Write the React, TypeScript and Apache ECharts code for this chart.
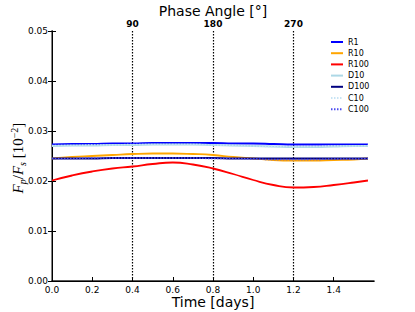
import React, { useEffect, useRef } from "react";
import * as echarts from "echarts";

const times = [0, 0.1, 0.2, 0.3, 0.4, 0.5, 0.6, 0.7, 0.8, 0.9, 1.0, 1.1, 1.2, 1.3, 1.4, 1.5, 1.57];
const R1 = [0.0273, 0.0274, 0.0274, 0.0275, 0.0275, 0.0276, 0.0276, 0.0276, 0.0276, 0.0275, 0.0275, 0.0274, 0.0273, 0.0273, 0.0273, 0.0273, 0.0273];
const R10 = [0.0245, 0.0248, 0.025, 0.0252, 0.0254, 0.0255, 0.0255, 0.0254, 0.0252, 0.0248, 0.0245, 0.0242, 0.0241, 0.0241, 0.0242, 0.0243, 0.0245];
const R100 = [0.0201, 0.0211, 0.0219, 0.0225, 0.0229, 0.0234, 0.0237, 0.0233, 0.0225, 0.0214, 0.0202, 0.0192, 0.0187, 0.0188, 0.0192, 0.0197, 0.0201];
const D10 = [0.027, 0.0271, 0.0271, 0.0272, 0.0272, 0.0273, 0.0273, 0.0273, 0.0272, 0.0271, 0.027, 0.0269, 0.0268, 0.0268, 0.0269, 0.027, 0.027];
const D100 = [0.0245, 0.0245, 0.0245, 0.0246, 0.0246, 0.0246, 0.0246, 0.0246, 0.0246, 0.0245, 0.0245, 0.0245, 0.0245, 0.0245, 0.0245, 0.0245, 0.0245];
const C10 = [0.0271, 0.0271, 0.0272, 0.0272, 0.0273, 0.0273, 0.0273, 0.0273, 0.0272, 0.0271, 0.027, 0.0269, 0.0269, 0.0269, 0.027, 0.027, 0.0271];
const C100 = [0.0245, 0.0245, 0.0246, 0.0246, 0.0246, 0.0246, 0.0246, 0.0246, 0.0245, 0.0245, 0.0244, 0.0243, 0.0243, 0.0243, 0.0244, 0.0244, 0.0245];

const seriesDefs = [
  { name: "R1", data: R1, color: "#0000ff", type: "solid" },
  { name: "R10", data: R10, color: "#ffa500", type: "solid" },
  { name: "R100", data: R100, color: "#ff0000", type: "solid" },
  { name: "D10", data: D10, color: "#add8e6", type: "solid" },
  { name: "D100", data: D100, color: "#000080", type: "solid" },
  { name: "C10", data: C10, color: "#c8e4f4", type: "dotted" },
  { name: "C100", data: C100, color: "#4b4bf0", type: "dotted" },
];

const xTicksMax = 1.6;
const phaseMax = 360;
const bottomTitle = "Time [days]";
const topTitle = "Phase Angle [°]";
const yTitleRich = "{i|F}{sub|p}{n|/}{i|F}{sub|s}{n| [10}{sup|−2}{n|]}";

const SOLID_ICON = "path://M0,0h12v2h-12z";
const DOT_ICON = "path://M0,0h1.5v2h-1.5z M3,0h1.5v2h-1.5z M6,0h1.5v2h-1.5z M9,0h1.5v2h-1.5z M12,0h0.01v2h-0.01z";

export default function App() {
  const ref = useRef<HTMLDivElement>(null);
  useEffect(() => {
    if (!ref.current) return;
    const chart = echarts.init(ref.current, null, { renderer: "svg" });
    const font = "DejaVu Sans";
    chart.setOption({
      animation: false,
      backgroundColor: "#ffffff",
      textStyle: { fontFamily: font },
      grid: { left: 52, right: 41, top: 31, bottom: 31, outerBoundsMode: "none", containLabel: false },
      graphic: [
        {
          type: "text",
          x: 213,
          y: 302,
          style: { text: bottomTitle, fontSize: 14, fontFamily: font, fill: "#000", textAlign: "center", textVerticalAlign: "middle" },
        },
        {
          type: "text",
          x: 213,
          y: 11,
          style: { text: topTitle, fontSize: 14, fontFamily: font, fill: "#000", textAlign: "center", textVerticalAlign: "middle" },
        },
        {
          type: "text",
          x: 18,
          y: 158,
          rotation: Math.PI / 2,
          style: {
            text: yTitleRich,
            fill: "#000",
            textAlign: "center",
            textVerticalAlign: "middle",
            rich: {
              i: { fontSize: 15, fontStyle: "italic", fontFamily: "Liberation Serif", fill: "#000" },
              n: { fontSize: 15, fontFamily: "Liberation Serif", fill: "#000" },
              sub: { fontSize: 10, fontStyle: "italic", fontFamily: "Liberation Serif", fill: "#000", verticalAlign: "bottom", padding: [8, 0, 0, 0] },
              sup: { fontSize: 10, fontFamily: "Liberation Serif", fill: "#000", verticalAlign: "top", padding: [0, 0, 8, 0] },
            },
          },
        },
      ],
      legend: {
        orient: "vertical",
        left: 326,
        top: 33,
        itemWidth: 12,
        itemHeight: 2,
        itemGap: 3.2,
        textStyle: { fontSize: 8, color: "#000", fontFamily: font },
        data: seriesDefs.map((s) => ({ name: s.name, icon: s.type === "dotted" ? DOT_ICON : SOLID_ICON })),
      },
      xAxis: [
        {
          type: "value",
          position: "bottom",
          min: 0,
          max: xTicksMax,
          interval: 0.2,
          axisLine: { show: true, lineStyle: { color: "#222", width: 1.5 } },
          axisTick: { show: true, inside: true, length: 4, lineStyle: { color: "#000" } },
          axisLabel: {
            fontSize: 9,
            color: "#000",
            margin: 4,
            showMaxLabel: false,
            formatter: (v: number) => v.toFixed(1),
          },
          splitLine: { show: false },
        },
        {
          type: "value",
          position: "top",
          min: 0,
          max: phaseMax,
          interval: 90,
          axisLine: { show: true, lineStyle: { color: "#000", width: 1 } },
          axisTick: { show: false },
          axisLabel: {
            fontSize: 9,
            color: "#000",
            fontWeight: "bold",
            margin: 3,
            showMinLabel: false,
            showMaxLabel: false,
          },
          splitLine: {
            show: true,
            showMinLine: false,
            showMaxLine: false,
            lineStyle: { color: "#000", type: [1.5, 1.5], width: 1.2 },
          },
        },
      ],
      yAxis: [
        {
          type: "value",
          position: "left",
          min: 0,
          max: 0.05,
          interval: 0.01,
          axisLine: { show: true, lineStyle: { color: "#808080", width: 2 } },
          axisTick: { show: true, inside: true, length: 4, lineStyle: { color: "#000" } },
          axisLabel: {
            fontSize: 9,
            color: "#000",
            margin: 4,
            formatter: (v: number) => v.toFixed(2),
          },
          splitLine: { show: false },
        },
        {
          type: "value",
          position: "right",
          min: 0,
          max: 0.05,
          interval: 0.01,
          axisLine: { show: true, lineStyle: { color: "#000", width: 1 } },
          axisTick: { show: true, inside: true, length: 4, lineStyle: { color: "#000" } },
          axisLabel: { show: false },
          splitLine: { show: false },
        },
      ],
      series: seriesDefs.map((s) => ({
        name: s.name,
        type: "line",
        xAxisIndex: 0,
        yAxisIndex: 0,
        smooth: true,
        symbol: "none",
        showSymbol: false,
        data: times.map((t, i) => [t, s.data[i]]),
        itemStyle: { color: s.color },
        lineStyle: { color: s.color, width: s.type === "dotted" ? 1.5 : 1.8, type: s.type === "dotted" ? [1.5, 1.5] : "solid" },
      })),
    });
    return () => chart.dispose();
  }, []);
  return <div ref={ref} style={{ position: "absolute", left: 0, top: 0, width: 415, height: 312 }} />;
}
